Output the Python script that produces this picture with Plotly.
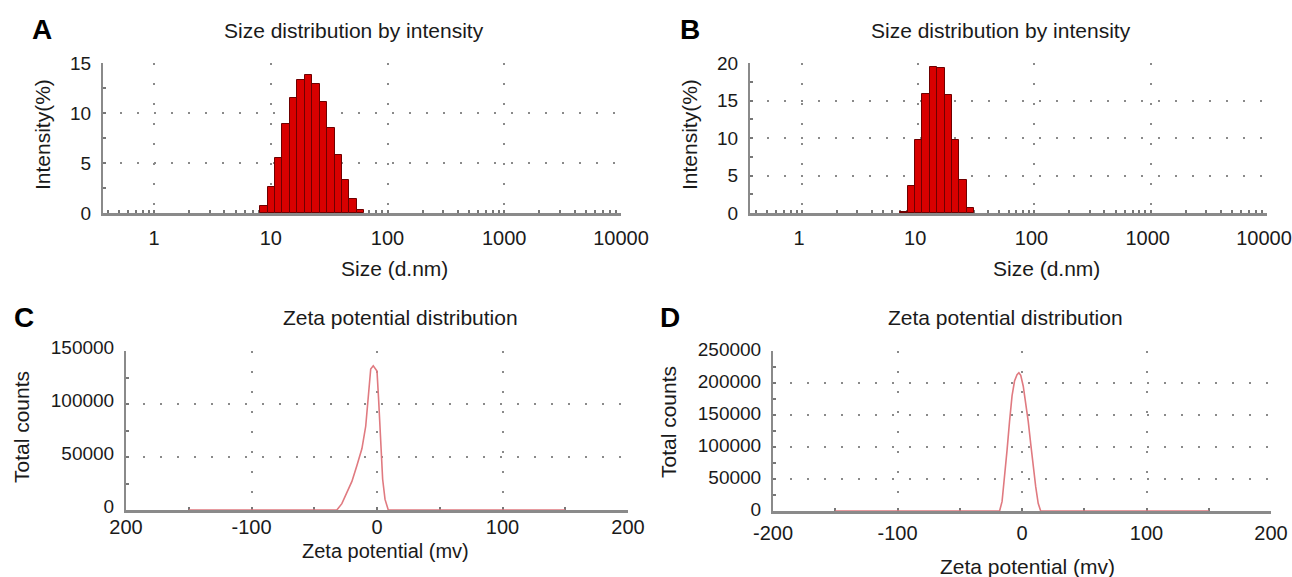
import numpy as np
import plotly.graph_objects as go

W, H = 1292, 577

# ---------------- data ----------------
size_bins_A = [8.721, 10.1, 11.7, 13.54, 15.69, 18.17, 21.04, 24.36, 28.21, 32.67, 37.84, 43.82, 50.75, 58.77]
intensity_A = [0.7, 2.6, 5.5, 8.9, 11.5, 13.3, 13.85, 12.95, 11.1, 8.55, 5.8, 3.3, 1.4, 0.33]

size_bins_B = [7.531, 8.721, 10.1, 11.7, 13.54, 15.69, 18.17, 21.04, 24.36, 28.21]
intensity_B = [0.18, 3.6, 9.8, 15.9, 19.5, 19.4, 15.8, 9.8, 4.35, 0.67]

zeta_C = [-150, -32, -28, -24, -20, -16, -12, -9, -7, -5, -3, -1, 0, 1.3, 2.4, 3.2, 4.5, 6.4, 9, 150]
counts_C = [0, 0, 6000, 16000, 27000, 42000, 58000, 79000, 104000, 133000, 136000, 133000, 131000,
            104000, 79000, 57000, 29000, 10000, 0, 0]

zeta_D = [-150, -18, -16, -14, -12, -10, -8, -6, -4, -2.5, -1, 1, 3, 5, 7, 9, 11, 13, 15, 150]
counts_D = [0, 0, 15000, 50000, 95000, 140000, 180000, 203000, 213000, 216000, 212000, 195000,
            170000, 140000, 105000, 70000, 38000, 12000, 0, 0]

size_ticks = [1, 10, 100, 1000, 10000]
size_ticklabels = ["1", "10", "100", "1000", "10000"]
zeta_ticks = [-200, -100, 0, 100, 200]
zeta_ticklabels_C = ["200", "-100", "0", "100", "200"]
zeta_ticklabels_D = ["-200", "-100", "0", "100", "200"]

# ---------------- styling ----------------
FONT = "Liberation Sans, Arial, sans-serif"
TXT = "#1a1a1a"
AXC = "#8a8a8a"
GRIDC = "#8a8a8a"
BAR_FILL = "#d80000"
BAR_LINE = "#6e0000"
CURVE = "#e07a80"
XTF = 20
YTF = 19


def px(x):
    return x / W


def py(y):
    return 1 - y / H


fig = go.Figure()

for sizes, vals, ax in [(size_bins_A, intensity_A, ""), (size_bins_B, intensity_B, "2")]:
    lx = np.log10(sizes)
    w = float(np.mean(np.diff(lx)))
    fig.add_trace(go.Bar(x=lx, y=vals, width=w, marker=dict(color=BAR_FILL, line=dict(color=BAR_LINE, width=1)),
                         xaxis="x" + ax, yaxis="y" + ax, showlegend=False, hoverinfo="skip"))

for z, c, ax in [(zeta_C, counts_C, "3"), (zeta_D, counts_D, "4")]:
    fig.add_trace(go.Scatter(x=z, y=c, mode="lines", line=dict(color=CURVE, width=1.6),
                             xaxis="x" + ax, yaxis="y" + ax, showlegend=False, cliponaxis=False,
                             hoverinfo="skip"))


def log_minor(lo, hi):
    out = []
    for d in range(int(np.floor(lo)) - 1, int(np.ceil(hi)) + 1):
        for k in range(2, 10):
            v = np.log10(k) + d
            if lo <= v <= hi:
                out.append(v)
    return out


MINOR = dict(ticks="inside", ticklen=3, tickwidth=2, tickcolor="#777", showgrid=False)


def xcommon(**kw):
    base = dict(showline=True, linecolor=AXC, linewidth=2.5, zeroline=False, showgrid=True,
                gridcolor=GRIDC, gridwidth=2, griddash="2px,18px", ticks="inside", ticklen=3,
                tickwidth=2, tickcolor="#777", layer="below traces", automargin=False,
                ticklabeloverflow="allow",
                tickfont=dict(family=FONT, size=XTF, color=TXT), fixedrange=True)
    base.update(kw)
    return base


def ycommon(**kw):
    base = dict(showline=True, linecolor=AXC, linewidth=2, zeroline=False, showgrid=True,
                gridcolor=GRIDC, gridwidth=2, griddash="2px,15px", ticks="inside", ticklen=3,
                tickwidth=2, tickcolor="#777", layer="below traces", tickformat="d", automargin=False,
                ticklabeloverflow="allow",
                tickfont=dict(family=FONT, size=YTF, color=TXT), fixedrange=True, ticklabelstandoff=6)
    base.update(kw)
    return base


xa_rng = [-0.437, 4.0]
xb_rng = [-0.447, 4.0]
logticks = list(np.log10(size_ticks))

fig.update_layout(
    width=W, height=H, margin=dict(l=0, r=0, t=0, b=0, pad=0, autoexpand=False),
    paper_bgcolor="white", plot_bgcolor="white", bargap=0,
    xaxis=xcommon(domain=[px(103), px(621)], range=xa_rng, tickmode="array", tickvals=logticks,
                  ticktext=size_ticklabels, anchor="y", ticklabelstandoff=5,
                  minor=dict(tickmode="array", tickvals=log_minor(*xa_rng), **MINOR)),
    yaxis=ycommon(domain=[py(213), py(63)], range=[0, 15], dtick=5, anchor="x",
                  minor=dict(dtick=2.5, **MINOR)),
    xaxis2=xcommon(domain=[px(750), px(1267)], range=xb_rng, tickmode="array", tickvals=logticks,
                   ticktext=size_ticklabels, anchor="y2", ticklabelstandoff=5, ticklabelshift=-3,
                   minor=dict(tickmode="array", tickvals=log_minor(*xb_rng), **MINOR)),
    yaxis2=ycommon(domain=[py(213), py(63)], range=[0, 20], dtick=5, anchor="x2",
                   minor=dict(dtick=2.5, **MINOR)),
    xaxis3=xcommon(domain=[px(126), px(628)], range=[-200, 200], tickmode="array", tickvals=zeta_ticks,
                   ticktext=zeta_ticklabels_C, anchor="y3", ticklabelstandoff=-3,
                   minor=dict(dtick=50, **MINOR)),
    yaxis3=ycommon(domain=[py(510), py(351)], range=[0, 150000], dtick=50000, anchor="x3",
                   ticklabelshift=-4, minor=dict(dtick=25000, **MINOR)),
    xaxis4=xcommon(domain=[px(773), px(1271)], range=[-200, 200], tickmode="array", tickvals=zeta_ticks,
                   ticktext=zeta_ticklabels_D, anchor="y4", ticklabelstandoff=2,
                   minor=dict(dtick=50, **MINOR)),
    yaxis4=ycommon(domain=[py(511), py(351)], range=[0, 250000], dtick=50000, anchor="x4",
                   ticklabelshift=-2, minor=dict(dtick=25000, **MINOR)),
)

ann = []


def txt(x, y, s, size=21, bold=False, angle=0):
    ann.append(dict(x=px(x), y=py(y), xref="paper", yref="paper", text=("<b>%s</b>" % s) if bold else s,
                    showarrow=False, xanchor="center", yanchor="middle", textangle=angle,
                    font=dict(family=FONT, size=size, color="#000" if bold else TXT)))


txt(42, 29, "A", 28, True)
txt(690, 29, "B", 28, True)
txt(24, 317, "C", 28, True)
txt(670, 317, "D", 28, True)
txt(354, 30, "Size distribution by intensity", 21)
txt(1001, 30, "Size distribution by intensity", 21)
txt(400, 317, "Zeta potential distribution", 21)
txt(1005, 317, "Zeta potential distribution", 21)
txt(395, 268, "Size (d.nm)", 21)
txt(1046, 268, "Size (d.nm)", 21)
txt(385, 551, "Zeta potential (mv)", 20)
txt(1027, 566, "Zeta potential (mv)", 21)
txt(42, 135, "Intensity(%)", 21, angle=-90)
txt(689, 135, "Intensity(%)", 21, angle=-90)
txt(21, 427, "Total counts", 21, angle=-90)
txt(668, 422, "Total counts", 21, angle=-90)

fig.update_layout(annotations=ann)

fig.write_html("out.html", config={"responsive": False, "displayModeBar": False},
               post_script="document.body.style.margin='0';document.body.style.overflow='hidden';")
